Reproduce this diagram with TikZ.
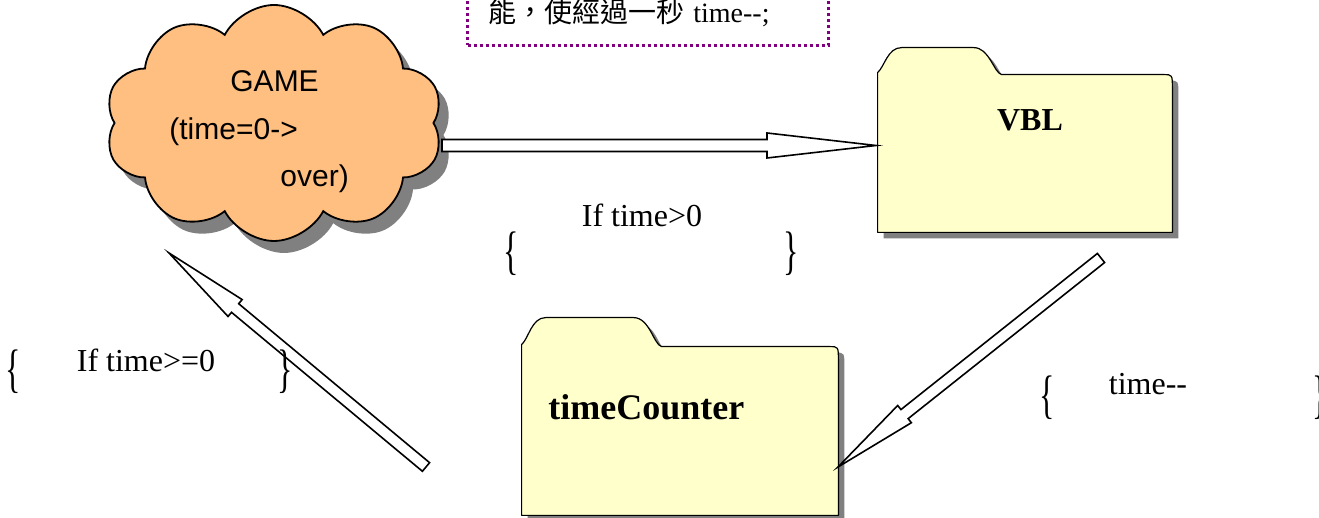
\documentclass[tikz,border=0pt]{standalone}
\usepackage{fontspec}
\usepackage{graphicx}
\setmainfont{Liberation Serif}
\setsansfont{Liberation Sans}
\newfontfamily\cjk{Noto Sans CJK TC}
\usetikzlibrary{positioning, calc, shapes.symbols, shadows}
\definecolor{cloudorange}{RGB}{255,191,128}
\definecolor{folderyellow}{RGB}{255,255,204}
\definecolor{shadowgray}{RGB}{128,128,128}
\definecolor{notepurple}{RGB}{128,0,128}
\tikzset{
    gamecloud/.style={cloud, cloud puffs=10, cloud puff arc=125, cloud ignores aspect, draw=black, fill=cloudorange, line width=0.9pt, minimum width=169pt, minimum height=118pt, inner sep=0pt, general shadow={fill=shadowgray, shadow xshift=5pt, shadow yshift=-6pt}},
    folderbody/.style={rectangle, inner sep=0pt, minimum width=#1},
    folder/.style={draw=black, fill=folderyellow, line width=0.6pt, line join=round, general shadow={fill=shadowgray, shadow xshift=3pt, shadow yshift=-3pt}},
    foldertxt/.style={font=\fontsize{#1}{#1}\selectfont\bfseries, inner sep=0pt},
    cloudtxt/.style={font=\sffamily\fontsize{15}{18}\selectfont, anchor=base west, inner sep=0pt},
    condtxt/.style={font=\fontsize{16}{19}\selectfont, anchor=base, inner sep=0pt},
    bracetxt/.style={font=\fontsize{16}{19}\selectfont, inner sep=0pt},
    notebox/.style={draw=notepurple, line width=1.5pt, dash pattern=on 1.5pt off 1.5pt, text width=160pt, align=left, inner xsep=10.25pt, inner ysep=0pt, text height=50pt, text depth=11.5pt, font=\fontsize{14}{17}\selectfont},
    blockarr/.style={draw=black, fill=white, line width=0.8pt, line join=miter}
}
% folder outline round a body node: #1 node, #2 tab width, #3 tab height
\newcommand{\folderoutline}[3]{%
    (#1.south west) -- ([shift={(0,2)}]#1.north west)
    .. controls ([shift={(7,8)}]#1.north west) and ([shift={(10,#3)}]#1.north west) .. ([shift={(24,#3)}]#1.north west)
    -- ([shift={(#2-28,#3)}]#1.north west)
    .. controls ([shift={(#2-12,#3)}]#1.north west) and ([shift={(#2-8,2)}]#1.north west) .. ([shift={(#2,0)}]#1.north west)
    -- ([shift={(-9,0)}]#1.north east) .. controls (#1.north east) .. ([shift={(0,-14)}]#1.north east)
    -- (#1.south east) -- cycle}
% hollow block arrow: from, to, head length, head half width, shaft half width
\newcommand{\blockarrow}[5]{%
    \draw[blockarr] ($(#1)!#5!90:(#2)$) -- ($(#2)!#3!(#1)!#5!-90:(#1)$) -- ($(#2)!#3!(#1)!#4!-90:(#1)$)
        -- (#2) -- ($(#2)!#3!(#1)!#4!90:(#1)$) -- ($(#2)!#3!(#1)!#5!90:(#1)$) -- ($(#1)!#5!-90:(#2)$) -- cycle;}
\newcommand{\tallbrace}[1]{\scalebox{1}[1.65]{#1}}

\begin{document}
\begin{tikzpicture}[x=0.5pt, y=0.5pt]
    \useasboundingbox (0,0) rectangle (1319,518);

    \node[notebox, anchor=south west] (note) at (466,471) {{\cjk 能，使經過一秒} time-{}-;};

    \node[gamecloud] (game) at (274,395) {};
    \node[cloudtxt] (gl1) at (230,426) {GAME};
    \node[cloudtxt] (gl2) at (169,378) {(time=0->};
    \node[cloudtxt] (gl3) at (280,331) {over)};

    \node[folderbody=147pt, minimum height=78.5pt] (vbl) at (1025,364.5) {};
    \draw[folder] \folderoutline{vbl}{124}{27};
    \node[foldertxt=16, anchor=base] (vbltxt) at (1030,387) {VBL};

    \node[folderbody=158pt, minimum height=84pt] (tc) at (680,87) {};
    \draw[folder] \folderoutline{tc}{140}{29};
    \node[foldertxt=18, anchor=base west] (tctxt) at (548,98) {timeCounter};

    \coordinate (a1s) at (442,372.5);
    \coordinate (a1e) at (876,372.5);
    \coordinate (a2s) at (1101,260);
    \coordinate (a2e) at (838,51);
    \coordinate (a3s) at (426,51);
    \coordinate (a3e) at (169,265);
    \blockarrow{a1s}{a1e}{54.5pt}{6.25pt}{3pt}
    \blockarrow{a2s}{a2e}{42.5pt}{5.5pt}{2.9pt}
    \blockarrow{a3s}{a3e}{43pt}{5.5pt}{2.8pt}

    \node[condtxt] (c1) at (642,291) {If time>0};
    \node[bracetxt] (c1l) at (511,264) {\tallbrace{\{}};
    \node[bracetxt] (c1r) at (791,264) {\tallbrace{\}}};

    \node[condtxt] (c2) at (146,146) {If time>=0};
    \node[bracetxt] (c2l) at (13,146) {\tallbrace{\{}};
    \node[bracetxt] (c2r) at (285,146) {\tallbrace{\}}};

    \node[condtxt] (c3) at (1148,123) {time-{}-};
    \node[bracetxt] (c3l) at (1047,120) {\tallbrace{\{}};
    \node[bracetxt] (c3r) at (1320,120) {\tallbrace{\}}};
\end{tikzpicture}
\end{document}
